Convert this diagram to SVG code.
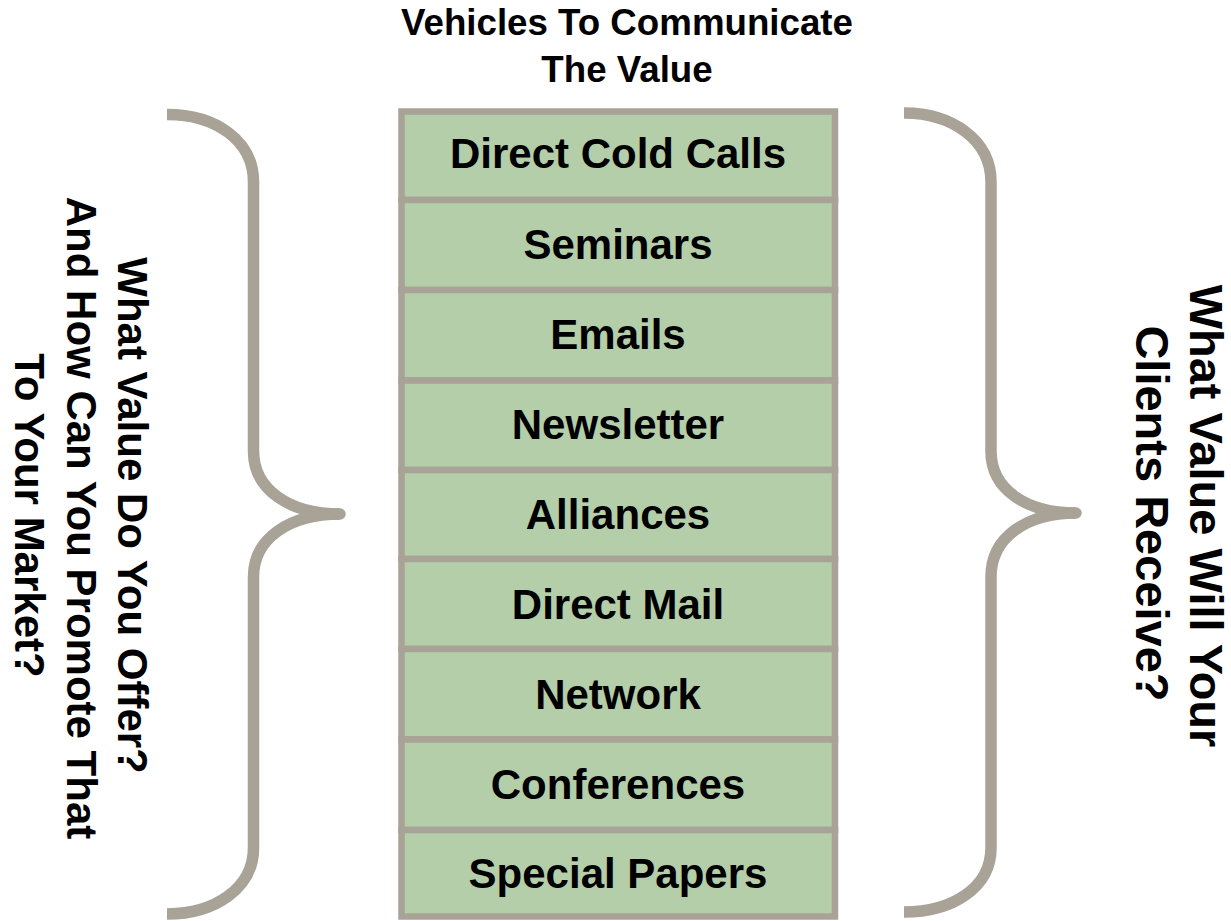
<svg xmlns="http://www.w3.org/2000/svg" width="1231" height="921" viewBox="0 0 1231 921">
<style>
.box{fill:#b3cea8;stroke:#a8a396;stroke-width:6.5}
.lbl{font-family:"Liberation Sans",Arial,sans-serif;font-weight:bold;font-size:42px;fill:#000;text-anchor:middle}
.side{font-family:"Liberation Sans",Arial,sans-serif;font-weight:bold;font-size:42px;fill:#000;text-anchor:middle}
.side2{font-family:"Liberation Sans",Arial,sans-serif;font-weight:bold;font-size:47px;fill:#000;text-anchor:middle}
.title{font-family:"Liberation Sans",Arial,sans-serif;font-weight:bold;font-size:36.7px;fill:#000;text-anchor:middle}
.brace{fill:none;stroke:#a8a396;stroke-width:11.5;stroke-linejoin:round}
</style>
<rect width="1231" height="921" fill="#ffffff"/>
<g id="title">
<text class="title" x="627" y="35">Vehicles To Communicate</text>
<text class="title" x="627" y="81.5">The Value</text>
</g>
<g id="connectors">
<path id="brace-left" class="brace" d="M167,114.5 C215,114.5 253.5,140 253.5,182 L253.5,451 C253.5,490 290,514 340,514"/>
<path class="brace" d="M340,514 C290,514 253.5,538 253.5,577 L253.5,848 C253.5,888 215,914 167,914"/>
<circle cx="340" cy="514" r="5.75" fill="#a8a396"/>
<path id="brace-right" class="brace" d="M904,113 C952,113 991,140 991,182 L991,451 C991,490 1027,513 1076,513"/>
<path class="brace" d="M1076,513 C1027,513 991,537 991,577 L991,848 C991,888 952,912 904,912"/>
<circle cx="1076" cy="513" r="5.75" fill="#a8a396"/>
</g>
<g id="node-1"><rect class="box" x="401.5" y="111.5" width="433.5" height="88.5"/><text class="lbl" x="618" y="168">Direct Cold Calls</text></g>
<g id="node-2"><rect class="box" x="401.5" y="200" width="433.5" height="90"/><text class="lbl" x="618" y="259">Seminars</text></g>
<g id="node-3"><rect class="box" x="401.5" y="290" width="433.5" height="90.5"/><text class="lbl" x="618" y="349">Emails</text></g>
<g id="node-4"><rect class="box" x="401.5" y="380.5" width="433.5" height="89.5"/><text class="lbl" x="618" y="439">Newsletter</text></g>
<g id="node-5"><rect class="box" x="401.5" y="470" width="433.5" height="89"/><text class="lbl" x="618" y="529">Alliances</text></g>
<g id="node-6"><rect class="box" x="401.5" y="559" width="433.5" height="90"/><text class="lbl" x="618" y="619">Direct Mail</text></g>
<g id="node-7"><rect class="box" x="401.5" y="649" width="433.5" height="90.5"/><text class="lbl" x="618" y="708.5">Network</text></g>
<g id="node-8"><rect class="box" x="401.5" y="739.5" width="433.5" height="90.5"/><text class="lbl" x="618" y="798.5">Conferences</text></g>
<g id="node-9"><rect class="box" x="401.5" y="830" width="433.5" height="86.5"/><text class="lbl" x="618" y="888">Special Papers</text></g>
<g id="left-label">
<text class="side" transform="translate(118,515.5) rotate(90)">What Value Do You Offer?</text>
<text class="side" transform="translate(67,518) rotate(90)">And How Can You Promote That</text>
<text class="side" transform="translate(15,515.5) rotate(90)">To Your Market?</text>
</g>
<g id="right-label">
<text class="side2" transform="translate(1190,516) rotate(90)">What Value Will Your</text>
<text class="side2" transform="translate(1136,513.5) rotate(90)">Clients Receive?</text>
</g>
</svg>
